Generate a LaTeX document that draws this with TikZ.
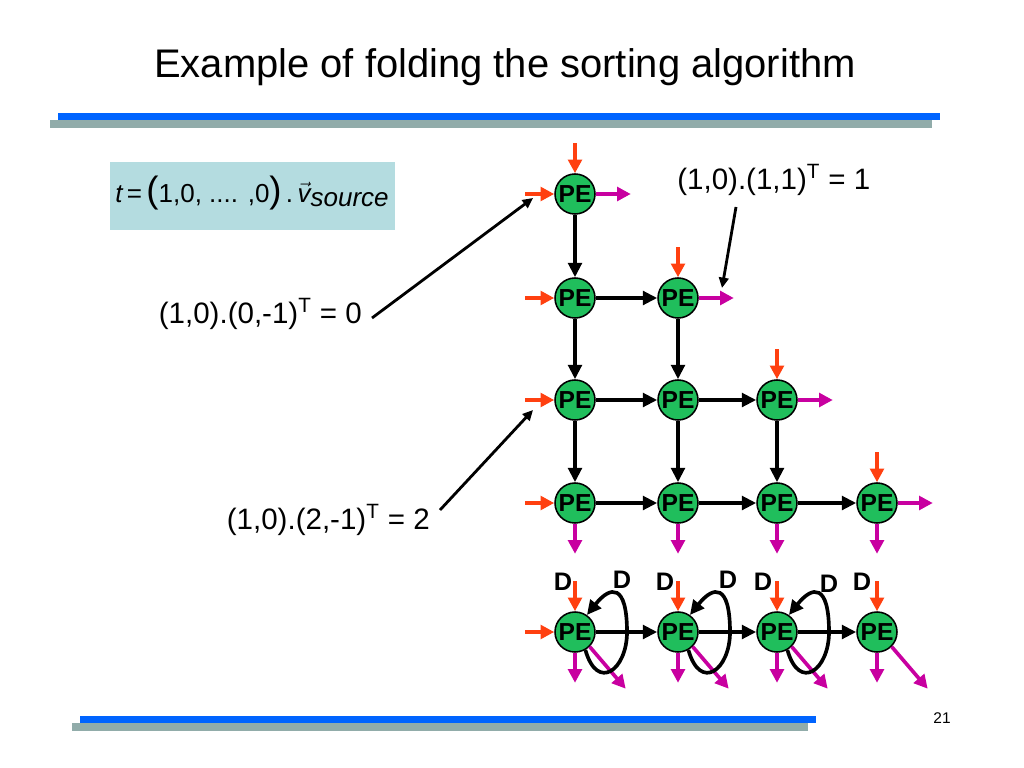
\documentclass[tikz,border=0pt]{standalone}
\usepackage{fontspec}
\setmainfont{Liberation Sans}
\usetikzlibrary{arrows.meta,calc}
\definecolor{pegreen}{RGB}{32,190,92}
\definecolor{arrred}{RGB}{255,64,16}
\definecolor{arrmag}{RGB}{200,0,160}
\definecolor{ruleblue}{RGB}{0,100,255}
\definecolor{rulegray}{RGB}{145,172,170}
\definecolor{boxcol}{RGB}{180,220,224}
\begin{document}
\begin{tikzpicture}[x=0.025cm,y=-0.025cm,
  pe/.style={circle,draw=black,line width=1.1pt,fill=pegreen,minimum size=1cm,inner sep=0pt,font=\fontsize{17.5}{17.5}\selectfont\bfseries},
  blk/.style={draw=black,line width=2.6pt,-{Triangle[length=0.36cm,width=0.34cm]}},
  red/.style={draw=arrred,line width=2.6pt,-{Triangle[length=0.34cm,width=0.34cm]},arrred},
  mag/.style={draw=arrmag,line width=2.6pt,-{Triangle[length=0.34cm,width=0.34cm]},arrmag},
  ann/.style={draw=black,line width=2pt,-{Triangle[length=0.26cm,width=0.24cm]}},
  lab/.style={font=\fontsize{21}{24}\selectfont,inner sep=0pt},
  dl/.style={font=\fontsize{18}{18}\selectfont\bfseries,inner sep=0pt}]
\useasboundingbox (0,0) rectangle (1024,768);

% title and rules
\node (title) at (505,67) {\fontsize{28.4}{32}\selectfont Example of folding the sorting algorithm};
\fill[rulegray] (50,120) rectangle (932,128);
\fill[ruleblue] (58,113) rectangle (940,120);
\fill[rulegray] (72,723) rectangle (808,731);
\fill[ruleblue] (80,716) rectangle (816,723);
\node (pnum) at (942,718) {\fontsize{11}{12}\selectfont 21};

% formula box
\fill[boxcol] (110,162) rectangle (395,230);
\node (formula) at (252,193) {\fontsize{18.5}{22}\selectfont\itshape t\upshape\,=\,{\fontsize{26}{26}\selectfont(}1,0, .... ,0{\fontsize{26}{26}\selectfont)}\,.\,\itshape $\vec{\mbox{\itshape v}}$\raisebox{-0.3ex}{source}};

% PE grid
\node[pe] (n11) at (575,194) {PE};
\node[pe] (n21) at (575,298) {PE};
\node[pe] (n22) at (678,298) {PE};
\node[pe] (n31) at (575,400) {PE};
\node[pe] (n32) at (678,400) {PE};
\node[pe] (n33) at (777,400) {PE};
\node[pe] (n41) at (575,503) {PE};
\node[pe] (n42) at (678,503) {PE};
\node[pe] (n43) at (777,503) {PE};
\node[pe] (n44) at (877,503) {PE};

\draw[blk] (n11) -- (n21);
\draw[blk] (n21) -- (n31);
\draw[blk] (n22) -- (n32);
\draw[blk] (n31) -- (n41);
\draw[blk] (n32) -- (n42);
\draw[blk] (n33) -- (n43);
\draw[blk] (n21) -- (n22);
\draw[blk] (n31) -- (n32);
\draw[blk] (n32) -- (n33);
\draw[blk] (n41) -- (n42);
\draw[blk] (n42) -- (n43);
\draw[blk] (n43) -- (n44);

\foreach \n in {n11,n22,n33,n44} {
  \draw[red] ($(\n.north)+(0,-30)$) -- (\n.north);
  \draw[mag] (\n.east) -- ($(\n.east)+(35,0)$);
}
\foreach \n in {n11,n21,n31,n41} {
  \draw[red] ($(\n.west)+(-29,0)$) -- (\n.west);
}
\foreach \n in {n41,n42,n43,n44} {
  \draw[mag] (\n.south) -- ($(\n.south)+(0,30)$);
}

% folded row
\node[pe] (b1) at (575,632) {PE};
\node[pe] (b2) at (678,632) {PE};
\node[pe] (b3) at (777,632) {PE};
\node[pe] (b4) at (877,632) {PE};
\draw[red] ($(b1.west)+(-29,0)$) -- (b1.west);
\foreach \n in {b1,b2,b3,b4} {
  \draw[red] ($(\n.north)+(0,-30)$) -- (\n.north);
  \draw[mag] (\n.south) -- ($(\n.south)+(0,30)$);
  \draw[mag] (\n.-45) -- ($(\n.-45)+(36,42)$);
}
\foreach \n in {b1,b2,b3} {
  \draw[blk] (\n.-60) .. controls +(12,42) and +(0,38) .. ($(\n)+(52,0)$)
     .. controls +(0,-48) and +(24,-30) .. (\n.55);
}
\draw[blk] (b1) -- (b2);
\draw[blk] (b2) -- (b3);
\draw[blk] (b3) -- (b4);

\node[dl] (d1) at (563,582) {D};
\node[dl] (d2) at (622,580) {D};
\node[dl] (d3) at (665,582) {D};
\node[dl] (d4) at (728,580) {D};
\node[dl] (d5) at (763,582) {D};
\node[dl] (d6) at (829,584) {D};
\node[dl] (d7) at (862,582) {D};

% annotations
\node[lab,anchor=east] (la) at (362,314) {(1,0).(0,-1)\textsuperscript{T} = 0};
\node[lab,anchor=east] (lb) at (430,520) {(1,0).(2,-1)\textsuperscript{T} = 2};
\node[lab,anchor=west] (lc) at (677,180) {(1,0).(1,1)\textsuperscript{T} = 1};
\coordinate (ta) at (533,198);
\coordinate (tb) at (533,410);
\coordinate (tc) at (722,288);
\draw[ann] ($(la.east)+(10,4)$) -- (ta);
\draw[ann] ($(lb.east)+(10,-10)$) -- (tb);
\draw[ann] (736,207) -- (tc);
\end{tikzpicture}
\end{document}
